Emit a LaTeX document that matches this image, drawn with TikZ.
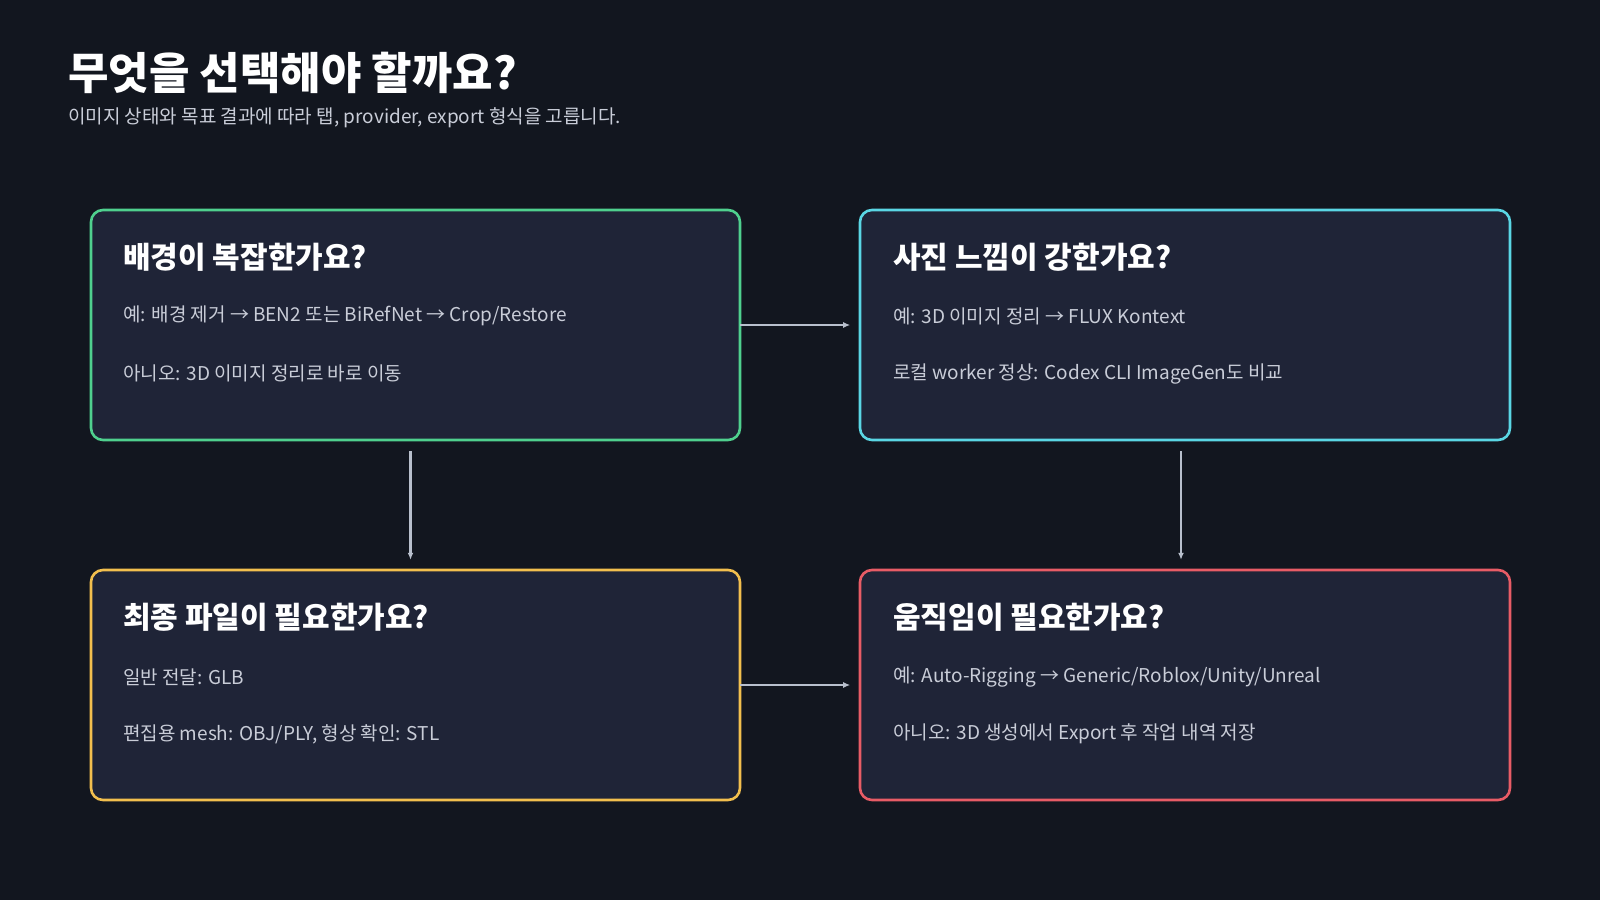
\documentclass[tikz,border=0pt]{standalone}
\usepackage{fontspec}
\setmainfont{Noto Sans CJK KR}
\newfontfamily\kr{Noto Sans CJK KR}
\usetikzlibrary{arrows.meta}
\definecolor{bg}{HTML}{12161F}
\definecolor{boxfill}{HTML}{1F2437}
\definecolor{cg}{HTML}{4FD08E}
\definecolor{cc}{HTML}{5AD6E4}
\definecolor{cy}{HTML}{F2BF4E}
\definecolor{cr}{HTML}{E85C66}
\definecolor{body}{HTML}{C9CDD8}
\definecolor{arr}{HTML}{B8BFCC}
\tikzset{
 card/.style={draw=#1,line width=2.6pt,fill=boxfill,rounded corners=12pt},
 ctitle/.style={anchor=west,text=white,font=\fontsize{30}{36}\selectfont\bfseries,inner sep=0},
 cline/.style={anchor=west,text=body,font=\fontsize{19}{23}\selectfont,inner sep=0},
 conn/.style={draw=arr,line width=2.4pt,-{Latex[length=7pt,width=6pt]}}
}
\begin{document}
\begin{tikzpicture}[x=1pt,y=-1pt]
\fill[bg] (0,0) rectangle (1600,900);
\useasboundingbox (0,0) rectangle (1600,900);
\node[anchor=west,text=white,font=\fontsize{44}{50}\selectfont\bfseries,inner sep=0] (title) at (68,73) {무엇을 선택해야 할까요?};
\node[anchor=west,text=body,font=\fontsize{19}{23}\selectfont,inner sep=0] (sub) at (68,118) {이미지 상태와 목표 결과에 따라 탭, provider, export 형식을 고릅니다.};

\draw[card=cg] (91,210) rectangle (740,440);
\draw[card=cc] (860,210) rectangle (1510,440);
\draw[card=cy] (91,570) rectangle (740,800);
\draw[card=cr] (860,570) rectangle (1510,800);
\node (b1) at (415.5,325) [minimum width=649pt,minimum height=230pt] {};
\node (b2) at (1185,325) [minimum width=650pt,minimum height=230pt] {};
\node (b3) at (415.5,685) [minimum width=649pt,minimum height=230pt] {};
\node (b4) at (1185,685) [minimum width=650pt,minimum height=230pt] {};

\node[ctitle] (t1) at (123,257) {배경이 복잡한가요?};
\node[cline] (l1a) at (123,316) {예: 배경 제거 → BEN2 또는 BiRefNet → Crop/Restore};
\node[cline] (l1b) at (123,373) {아니오: 3D 이미지 정리로 바로 이동};

\node[ctitle] (t2) at (893,257) {사진 느낌이 강한가요?};
\node[cline] (l2a) at (893,316) {예: 3D 이미지 정리 → FLUX Kontext};
\node[cline] (l2b) at (893,374) {로컬 worker 정상: Codex CLI ImageGen도 비교};

\node[ctitle] (t3) at (123,617) {최종 파일이 필요한가요?};
\node[cline] (l3a) at (123,677) {일반 전달: GLB};
\node[cline] (l3b) at (123,734) {편집용 mesh: OBJ/PLY, 형상 확인: STL};

\node[ctitle] (t4) at (893,617) {움직임이 필요한가요?};
\node[cline] (l4a) at (893,677) {예: Auto-Rigging → Generic/Roblox/Unity/Unreal};
\node[cline] (l4b) at (893,734) {아니오: 3D 생성에서 Export 후 작업 내역 저장};

\draw[conn] (b1.east) -- ++(110,0) coordinate (e1);
\draw[conn] (b3.east) -- ++(110,0) coordinate (e3);
\draw[conn] ([xshift=-5pt,yshift=-11pt]b1.south) -- ([xshift=-5pt,yshift=10pt]b3.north);
\draw[conn] ([xshift=-4pt,yshift=-11pt]b2.south) -- ([xshift=-4pt,yshift=10pt]b4.north);
\end{tikzpicture}
\end{document}
